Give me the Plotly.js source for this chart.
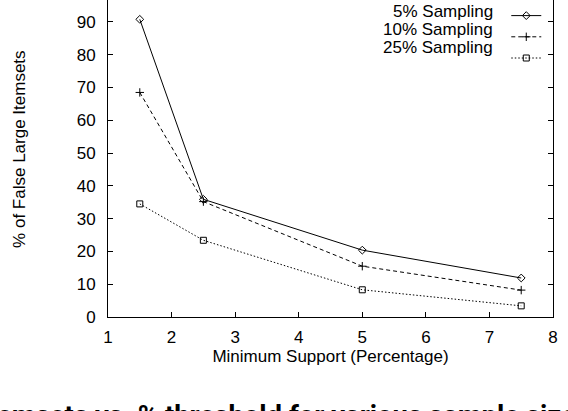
<!DOCTYPE html>
<html>
<head>
<meta charset="utf-8">
<script src="https://cdn.plot.ly/plotly-3.0.1.min.js"></script>
<style>
html,body{margin:0;padding:0;background:#fff;}
#chart{width:568px;height:411px;}
</style>
</head>
<body>
<div id="chart"></div>
<script>
// Data
const minSupport = [1.5, 2.5, 5, 7.5];
const sampling5  = [90.8, 35.9, 20.4, 11.9];
const sampling10 = [68.5, 35.2, 15.5, 8.2];
const sampling25 = [34.5, 23.4, 8.3, 3.4];
const seriesNames = ["5% Sampling", "10% Sampling", "25% Sampling"];
const xTicks = [1, 2, 3, 4, 5, 6, 7, 8];
const yTicks = [0, 10, 20, 30, 40, 50, 60, 70, 80, 90];
const xTitle = "Minimum Support (Percentage)";
const yTitle = "% of False Large Itemsets";
const caption = "% of False Large Itemsets vs. % threshold for various sample sizes";

const font = "Liberation Sans, Arial, Helvetica, sans-serif";
const fs = 17;

function mk(y, dash, symbol, size) {
  return {
    x: minSupport, y: y, type: "scatter", mode: "lines+markers",
    name: "",
    line: {color: "#000", width: 1, dash: dash},
    marker: {symbol: symbol, size: size, color: "#000", line: {color: "#000", width: 1}},
    showlegend: true, hoverinfo: "skip"
  };
}

const traces = [
  mk(sampling5, "solid", "diamond-open", 6),
  mk(sampling10, "4px,3px", "cross-thin-open", 6),
  mk(sampling25, "1.5px,2px", "square-open", 6)
];

const legendY = [0.963, 0.907, 0.851];
const annotations = seriesNames.map((n, i) => ({
  text: n, xref: "paper", yref: "paper", x: 0.869, y: legendY[i],
  xanchor: "right", yanchor: "middle", showarrow: false,
  font: {family: font, size: fs, color: "#000"}
}));
annotations.push({
  text: yTitle, xref: "paper", yref: "paper", x: -0.198, y: 0.53,
  xanchor: "center", yanchor: "middle", textangle: -90, showarrow: false,
  font: {family: font, size: fs, color: "#000"}
});
annotations.push({
  text: "<b>" + caption + "</b>", xref: "paper", yref: "paper", x: 0.163, y: -0.2524,
  xanchor: "center", yanchor: "top", showarrow: false,
  font: {family: "Roboto, sans-serif", size: 27.5, color: "#000"}
});

const layout = {
  width: 568, height: 411,
  margin: {l: 108, r: 15, t: 0, b: 94},
  paper_bgcolor: "#fff", plot_bgcolor: "#fff",
  font: {family: font, size: fs, color: "#000"},
  showlegend: true,
  legend: {
    x: 0.895, y: 1.0, xanchor: "left", yanchor: "top",
    bgcolor: "rgba(0,0,0,0)", borderwidth: 0,
    font: {family: font, size: 14}
  },
  xaxis: {
    range: [1, 8], tickvals: xTicks, ticktext: xTicks.map(String),
    ticks: "inside", ticklen: 5, tickcolor: "#000", tickwidth: 1,
    showline: true, linecolor: "#000", linewidth: 1, mirror: false,
    showgrid: false, zeroline: false,
    ticklabelstandoff: 5,
    tickfont: {family: font, size: fs},
    title: {text: xTitle, font: {family: font, size: fs}, standoff: 0}
  },
  yaxis: {
    range: [0, 96.7], tickvals: yTicks, ticktext: yTicks.map(String),
    ticks: "inside", ticklen: 5, tickcolor: "#000", tickwidth: 1,
    showline: true, linecolor: "#000", linewidth: 1, mirror: "ticks",
    showgrid: false, zeroline: false,
    tickfont: {family: font, size: fs},
    ticklabelstandoff: 8
  },
  annotations: annotations
};

Plotly.newPlot("chart", traces, layout, {staticPlot: true, displayModeBar: false});
</script>
</body>
</html>
